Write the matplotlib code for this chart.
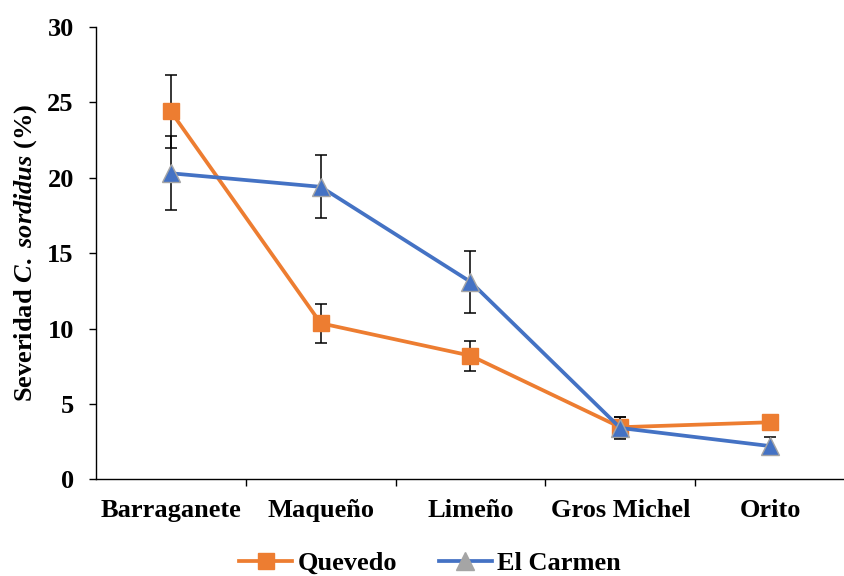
import matplotlib
matplotlib.use("Agg")
import matplotlib.pyplot as plt
from matplotlib.lines import Line2D
import numpy as np

plt.rcParams['font.family'] = ['Liberation Serif', 'DejaVu Serif']
plt.rcParams['font.weight'] = 'bold'
plt.rcParams['mathtext.fontset'] = 'custom'
plt.rcParams['mathtext.rm'] = 'Liberation Serif:bold'
plt.rcParams['mathtext.it'] = 'Liberation Serif:italic:bold'

# --- data ---
variedades = ['Barraganete', 'Maqueño', 'Limeño', 'Gros Michel', 'Orito']
quevedo = [24.4, 10.35, 8.2, 3.45, 3.78]
quevedo_err = [2.4, 1.3, 1.0, 0.7, 0.3]
el_carmen = [20.3, 19.4, 13.1, 3.4, 2.2]
el_carmen_err = [2.45, 2.1, 2.05, 0.7, 0.6]

orange = '#ED7D31'
blue = '#4472C4'
grey = '#A5A5A5'
fs = 19

fig = plt.figure(figsize=(8.45, 5.76), dpi=100)
ax = fig.add_axes([0.1136, 0.168, 0.8864, 0.785])

x = np.arange(len(variedades))

# error bars first
ax.errorbar(x, quevedo, yerr=quevedo_err, fmt='none', ecolor='black',
            elinewidth=1.1, capsize=4.5, capthick=1.1, zorder=2)
ax.errorbar(x, el_carmen, yerr=el_carmen_err, fmt='none', ecolor='black',
            elinewidth=1.1, capsize=4.5, capthick=1.1, zorder=2)

ax.plot(x, quevedo, color=orange, linewidth=2.7, marker='s', markersize=12,
        markerfacecolor=orange, markeredgecolor=orange, zorder=3)
ax.plot(x, el_carmen, color=blue, linewidth=2.7, marker='^', markersize=13,
        markerfacecolor=blue, markeredgecolor=grey, markeredgewidth=1, zorder=4)

# --- axes styling ---
ax.set_xlim(-0.5, len(variedades) - 0.5)
ax.set_ylim(0, 30)
ax.set_yticks(range(0, 31, 5))
ax.set_xticks(x)
ax.set_xticklabels(variedades, fontsize=fs, fontweight='bold')
ax.tick_params(axis='y', labelsize=fs, direction='out', length=5, width=1, pad=11)
ax.tick_params(axis='x', which='major', length=0, pad=14)
ax.set_xticks(np.arange(0.5, len(variedades) - 0.5, 1), minor=True)
ax.tick_params(axis='x', which='minor', direction='out', length=5, width=1)
for lbl in ax.get_yticklabels():
    lbl.set_fontweight('bold')

ax.spines['top'].set_visible(False)
ax.spines['right'].set_visible(False)
ax.spines['left'].set_linewidth(1)
ax.spines['bottom'].set_linewidth(1)

ax.set_ylabel(r'Severidad $\mathit{C.\ sordidus}$ (%)', fontsize=fs, fontweight='bold', labelpad=6)

# --- legend ---
handles = [
    Line2D([], [], color=orange, linewidth=2.7, marker='s', markersize=12,
           markerfacecolor=orange, markeredgecolor=orange),
    Line2D([], [], color=blue, linewidth=2.7, marker='^', markersize=13,
           markerfacecolor=grey, markeredgecolor=grey),
]
fig.legend(handles, ['Quevedo', 'El Carmen'], loc='center', bbox_to_anchor=(0.509, 0.022),
           ncol=2, frameon=False, prop={'size': fs, 'weight': 'bold'},
           handlelength=2.0, handletextpad=0.2, columnspacing=1.6)

fig.savefig('out.png', dpi=100)
